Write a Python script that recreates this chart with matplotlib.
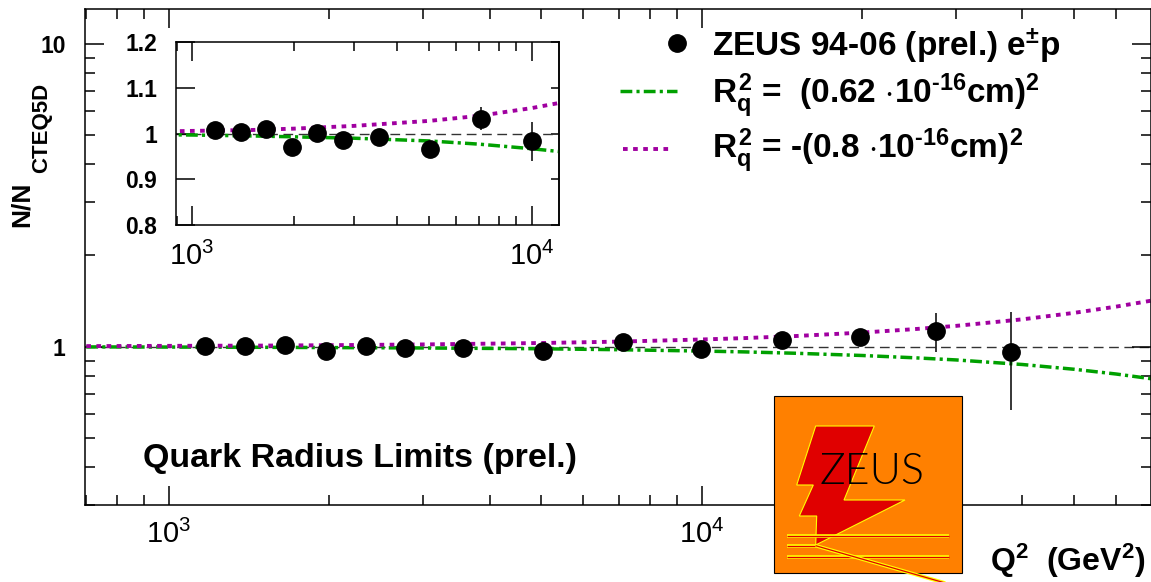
import matplotlib.pyplot as plt
from matplotlib.patches import Rectangle, Polygon
from matplotlib.ticker import LogLocator, NullFormatter

plt.rcParams['font.family'] = ['Liberation Sans', 'DejaVu Sans']
plt.rcParams['mathtext.fontset'] = 'custom'
plt.rcParams['mathtext.rm'] = 'Liberation Sans:bold'
plt.rcParams['mathtext.it'] = 'Liberation Sans:bold'
plt.rcParams['mathtext.bf'] = 'Liberation Sans:bold'
plt.rcParams['mathtext.sf'] = 'Liberation Sans'

# ZEUS 94-06 (prel.) data, N/N_CTEQ5D
q2 = [1170, 1390, 1650, 1970, 2340, 2780, 3560, 5030, 7110, 9990,
      14150, 19800, 27500, 38000]
ratio = [1.007, 1.004, 1.011, 0.970, 1.002, 0.987, 0.992, 0.966, 1.033, 0.983,
         1.052, 1.074, 1.127, 0.960]
ratio_err = [0.006, 0.006, 0.007, 0.008, 0.009, 0.010, 0.011, 0.015, 0.026, 0.043,
             0.050, 0.060, 0.165, 0.340]

# curves
curve_q2 = [700, 1000, 1500, 2000, 3000, 5000, 7000, 10000, 12000, 15000,
            20000, 25000, 30000, 40000, 50000, 60000, 70000]
ratio_r062 = [0.998, 0.997, 0.995, 0.993, 0.990, 0.984, 0.977, 0.967, 0.961, 0.951,
              0.935, 0.919, 0.904, 0.873, 0.842, 0.812, 0.783]
ratio_rm08 = [1.004, 1.006, 1.008, 1.011, 1.017, 1.028, 1.039, 1.056, 1.067, 1.084,
              1.113, 1.142, 1.171, 1.231, 1.293, 1.356, 1.420]

x_ticks = [1e3, 1e4]
x_tick_labels = [r'$\mathsf{10}^{\mathsf{3}}$', r'$\mathsf{10}^{\mathsf{4}}$']
y_ticks = [1, 10]
y_tick_labels = ['1', '10']
inset_y_ticks = [0.8, 0.9, 1.0, 1.1, 1.2]
inset_y_labels = ['0.8', '0.9', '1', '1.1', '1.2']

GREEN = '#00a000'
PURPLE = '#a000a0'
GREEN_DASH = (3.4, 1.2, 0.9, 1.2)
PURPLE_DASH = (1.2, 1.4)
W, H = 1151, 582


def box(l, t, r, b):
    return [l / W, 1 - b / H, (r - l) / W, (b - t) / H]


def draw(a):
    a.axhline(1, color='#333333', lw=1.0, dashes=(7, 4), zorder=1)
    a.plot(curve_q2, ratio_r062, color=GREEN, lw=2.5, dashes=GREEN_DASH, zorder=2)
    a.plot(curve_q2, ratio_rm08, color=PURPLE, lw=2.8, dashes=PURPLE_DASH, zorder=2)
    a.errorbar(q2, ratio, yerr=ratio_err, fmt='o', color='black', ms=12.5,
               elinewidth=1.1, capsize=0, zorder=3)
    for s in a.spines.values():
        s.set_linewidth(1.1)


fig = plt.figure(figsize=(W / 100, H / 100), dpi=100)

# main panel
ax = fig.add_axes(box(85, 9.3, 1151, 505))
ax.set_xscale('log')
ax.set_yscale('log')
draw(ax)
ax.set_xlim(696, 69700)
ax.set_ylim(0.3, 13)
ax.set_xticks(x_ticks, labels=x_tick_labels)
ax.set_yticks(y_ticks, labels=y_tick_labels, fontweight='bold')
ax.xaxis.set_minor_locator(LogLocator(base=10, subs=range(2, 10), numticks=20))
ax.yaxis.set_minor_locator(LogLocator(base=10, subs=range(2, 10), numticks=20))
ax.xaxis.set_minor_formatter(NullFormatter())
ax.yaxis.set_minor_formatter(NullFormatter())
ax.tick_params(which='both', direction='in', top=True, right=True, width=1.1)
ax.tick_params(which='major', length=13.5)
ax.tick_params(which='minor', length=7.5)
ax.tick_params(axis='x', pad=11, labelsize=21)
ax.tick_params(axis='y', pad=14, labelsize=16.5)

# inset
ins = fig.add_axes(box(175.7, 42.3, 559, 225))
ins.set_facecolor('white')
ins.set_xscale('log')
draw(ins)
ins.set_xlim(895, 12030)
ins.set_ylim(0.8, 1.2)
ins.set_xticks(x_ticks, labels=x_tick_labels)
ins.set_yticks(inset_y_ticks, labels=inset_y_labels, fontweight='bold')
ins.xaxis.set_minor_locator(LogLocator(base=10, subs=range(2, 10), numticks=20))
ins.xaxis.set_minor_formatter(NullFormatter())
ins.tick_params(which='both', direction='in', top=True, width=1.1)
ins.tick_params(which='major', length=13.5)
ins.tick_params(which='minor', length=6.5)
ins.tick_params(axis='x', pad=12, labelsize=21)
ins.tick_params(axis='y', pad=13.5, labelsize=16.5)
sec = ins.secondary_yaxis('right')
sec.set_yticks(inset_y_ticks)
sec.yaxis.set_major_formatter(NullFormatter())
sec.tick_params(direction='in', length=6, width=1.1)
sec.spines['right'].set_linewidth(1.1)

# overlay in pixel coordinates for legend, labels and logo
ov = fig.add_axes([0, 0, 1, 1], zorder=10)
ov.set_xlim(0, W)
ov.set_ylim(H, 0)
ov.axis('off')

ov.plot([676.7], [43.3], 'o', color='black', ms=12.5)
ov.plot([620, 677], [91, 91], color=GREEN, lw=2.5, dashes=GREEN_DASH)
ov.plot([623, 673], [149, 149], color=PURPLE, lw=2.8, dashes=PURPLE_DASH)
ov.text(712, 56, r'ZEUS 94-06 (prel.) e$^{\pm}$p', fontsize=24,
        fontweight='bold', va='baseline')
ov.text(712, 103, r'$R_{q}^{2}$ =  (0.62 $\cdot$10$^{\text{-16}}$cm)$^{2}$',
        fontsize=24, fontweight='bold', va='baseline')
ov.text(712, 158, r'$R_{q}^{2}$ = -(0.8 $\cdot$10$^{\text{-16}}$cm)$^{2}$',
        fontsize=24, fontweight='bold', va='baseline')

ov.text(143, 467, 'Quark Radius Limits (prel.)', fontsize=24.5,
        fontweight='bold', va='baseline')
ov.text(1146, 571, r'Q$^{2}$  (GeV$^{2}$)', fontsize=23, fontweight='bold',
        ha='right', va='baseline')
ov.text(21.7, 227, 'N/N', rotation=90, ha='center', va='bottom',
        fontsize=19, fontweight='bold')
ov.text(41.7, 173, 'CTEQ5D', rotation=90, ha='center', va='bottom',
        fontsize=16, fontweight='bold')

# ZEUS logo
ov.add_patch(Rectangle((774.3, 395.7), 188, 177, facecolor='#ff8000',
                       edgecolor='black', lw=0.8))
bolt = [(815.7, 426), (874.3, 426), (844, 500), (905, 500), (815.7, 545),
        (816.7, 516), (799.3, 516), (813.3, 485), (796.7, 485)]
ov.add_patch(Polygon(bolt, closed=True, facecolor='#e00000',
                     edgecolor='#ffff00', lw=0.8))
for xs, ys in [([786.7, 949.3], [535.7, 535.7]),
               ([786.7, 815.7], [545.7, 545.7]),
               ([786.7, 949.3], [556.7, 556.7]),
               ([815.7, 1000], [545.7, 598.8])]:
    ov.plot(xs, ys, color='#ffff00', lw=2.6, solid_capstyle='butt')
    ov.plot(xs, ys, color='#e00000', lw=0.9, solid_capstyle='butt')
ov.text(820, 484, 'ZEUS', fontsize=31, family=['Lato', 'DejaVu Sans'],
        fontweight=300, va='baseline', color='black')

fig.savefig('out.png', dpi=100)
